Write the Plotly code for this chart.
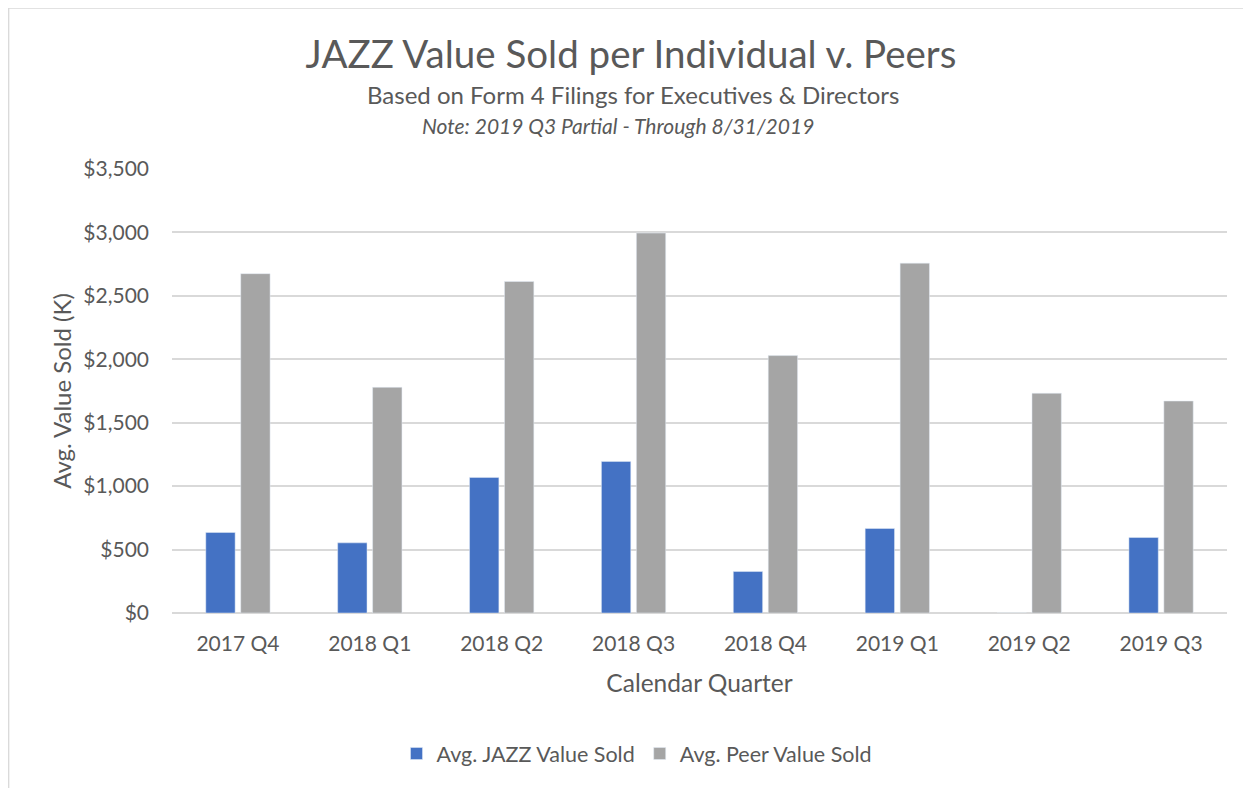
import plotly.graph_objects as go

quarters = ["2017 Q4", "2018 Q1", "2018 Q2", "2018 Q3", "2018 Q4", "2019 Q1", "2019 Q2", "2019 Q3"]
jazz_sold = [635, 553, 1069, 1195, 327, 666, 0, 595]
peer_sold = [2675, 1779, 2613, 2995, 2029, 2758, 1732, 1671]
y_ticks = [0, 500, 1000, 1500, 2000, 2500, 3000, 3500]
y_labels = ["$0", "$500", "$1,000", "$1,500", "$2,000", "$2,500", "$3,000", "$3,500"]

FONT = "Lato"
TEXT = "#595959"
W, H = 1251, 788
OFF = 8  # page body margin


def px(x):
    return (x - 172) / 1055


def py(y):
    return (612.7 - y) / 443.3


fig = go.Figure()
fig.add_trace(go.Bar(x=quarters, y=jazz_sold, name="Avg. JAZZ Value Sold", marker_color="#4472C4"))
fig.add_trace(go.Bar(x=quarters, y=peer_sold, name="Avg. Peer Value Sold", marker_color="#A5A5A5"))

fig.update_layout(
    width=W, height=H,
    margin=dict(l=172 - OFF, r=W + OFF - 1227, t=169 - OFF, b=H + OFF - 613),
    paper_bgcolor="white", plot_bgcolor="white",
    font=dict(family=FONT, color=TEXT, size=18),
    barmode="group", bargap=0.47, bargroupgap=0.16,
    title=dict(
        text="JAZZ Value Sold per Individual v. Peers",
        font=dict(size=38.5, color=TEXT, family=FONT),
        x=(631 - OFF) / W, xanchor="center", y=1 - (55 - OFF) / H, yanchor="middle",
    ),
    legend=dict(
        orientation="h", x=px(637), xanchor="center", y=py(753), yanchor="middle",
        font=dict(size=21.5, color=TEXT), traceorder="normal",
    ),
    showlegend=True,
)

fig.update_xaxes(
    showgrid=False, showline=False, ticks="",
    tickfont=dict(size=21, color=TEXT), ticklabelstandoff=16,
    title=dict(text="Calendar Quarter", font=dict(size=24.5, color=TEXT), standoff=20),
)
fig.update_yaxes(
    range=[0, 3500], tickvals=y_ticks, ticktext=y_labels,
    showgrid=True, gridcolor="#D9D9D9", gridwidth=1.5,
    zeroline=True, zerolinecolor="#D9D9D9", zerolinewidth=1.5,
    ticks="", tickfont=dict(size=21, color=TEXT), ticklabelstandoff=22,
    title=dict(text="Avg. Value Sold (K)", font=dict(size=24, color=TEXT), standoff=4),
)

fig.add_annotation(
    text="Based on Form 4 Filings for Executives & Directors",
    xref="paper", yref="paper", x=px(632.5), y=py(95),
    showarrow=False, font=dict(size=24, color=TEXT), xanchor="center", yanchor="middle",
)
fig.add_annotation(
    text="<i>Note: 2019 Q3 Partial - Through 8/31/2019</i>",
    xref="paper", yref="paper", x=px(617.5), y=py(126),
    showarrow=False, font=dict(size=21, color=TEXT), xanchor="center", yanchor="middle",
)

# chart frame
fig.add_shape(
    type="rect", xref="paper", yref="paper",
    x0=px(OFF + 0.7), x1=px(1270), y0=py(820), y1=py(OFF + 0.7),
    line=dict(color="#D9D9D9", width=1.3), layer="below",
)

fig.write_html("out.html")
